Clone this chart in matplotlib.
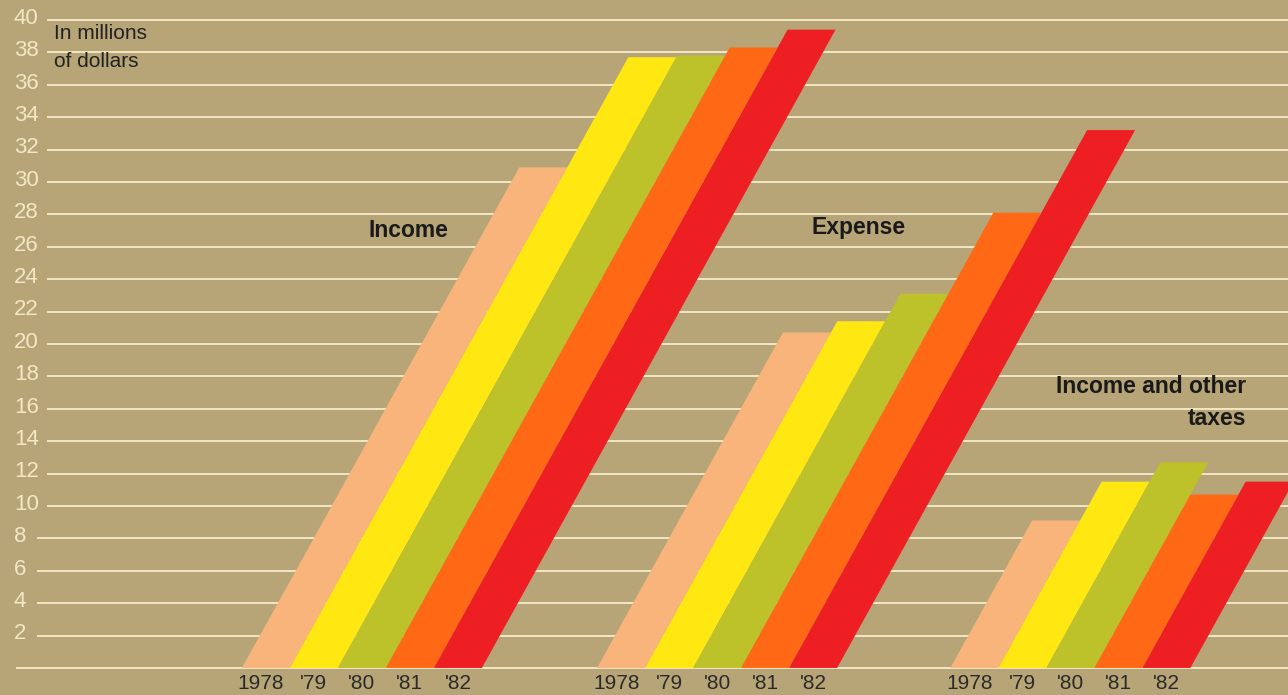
import matplotlib.pyplot as plt
from matplotlib.patches import Polygon

plt.rcParams['font.family'] = ['Liberation Sans', 'DejaVu Sans']

# Данные (в миллионах долларов)
years = ["1978", "'79", "'80", "'81", "'82"]
income = [30.9, 37.7, 37.8, 38.3, 39.4]
expense = [20.7, 21.4, 23.1, 28.1, 33.2]
taxes = [9.1, 11.5, 12.7, 10.7, 11.5]
group_names = ["Income", "Expense", "Income and other\ntaxes"]
y_ticks = list(range(2, 42, 2))

colors = ["#F9B47C", "#FFE812", "#BEC22A", "#FF6814", "#EE1F22"]
bg = "#B7A577"
grid_col = "#F2E7C6"

# Положение групп (в ширинах столбцов) и наклон столбцов
group_start = [5.04, 12.44, 19.8]
shear = 0.187

fig = plt.figure(figsize=(12.88, 6.95), dpi=100, facecolor=bg)
ax = fig.add_axes([0, 0, 1, 1])
ax.set_facecolor(bg)
ax.set_xlim(0, 1288 / 48)
ax.set_ylim(-1.67, 41.23)
ax.axis("off")

# Горизонтальные линии сетки и подписи оси
ax.plot([17 / 48, 1288 / 48], [0, 0], color=grid_col, lw=1.4, zorder=1)
for v in y_ticks:
    start = 38 if v < 10 else 48
    ax.plot([start / 48, 1288 / 48], [v, v], color=grid_col, lw=1.4, zorder=1)
    ax.text(14 / 48, v + 0.1, str(v), color=grid_col, fontsize=16,
            ha="left", va="center", zorder=3)

# Наклонные столбцы-параллелограммы
for g, series in enumerate([income, expense, taxes]):
    x0 = group_start[g]
    for i, val in enumerate(series):
        xl = x0 + i
        pts = [(xl, 0), (xl + 1, 0), (xl + 1 + shear * val, val), (xl + shear * val, val)]
        ax.add_patch(Polygon(pts, closed=True, facecolor=colors[i],
                             edgecolor="none", zorder=2 + i * 0.01))
        ax.text(xl + 0.5 - (0.1 if i == 0 else 0), -0.95, years[i], fontsize=15,
                color="#2a2a2a", ha="center", va="center")

ax.text(408 / 48, 27.0, group_names[0], fontsize=16.5, fontweight="bold",
        color="#1a1a1a", ha="center", va="center")
ax.text(859 / 48, 27.2, group_names[1], fontsize=16.5, fontweight="bold",
        color="#1a1a1a", ha="center", va="center")
ax.text(1246 / 48, 16.4, group_names[2], fontsize=16.5, fontweight="bold",
        color="#1a1a1a", ha="right", va="center", linespacing=1.5)

ax.text(54 / 48, 38.3, "In millions\nof dollars", fontsize=15, color="#222222",
        ha="left", va="center", linespacing=1.55)

plt.savefig("out.png", dpi=100, facecolor=bg)
